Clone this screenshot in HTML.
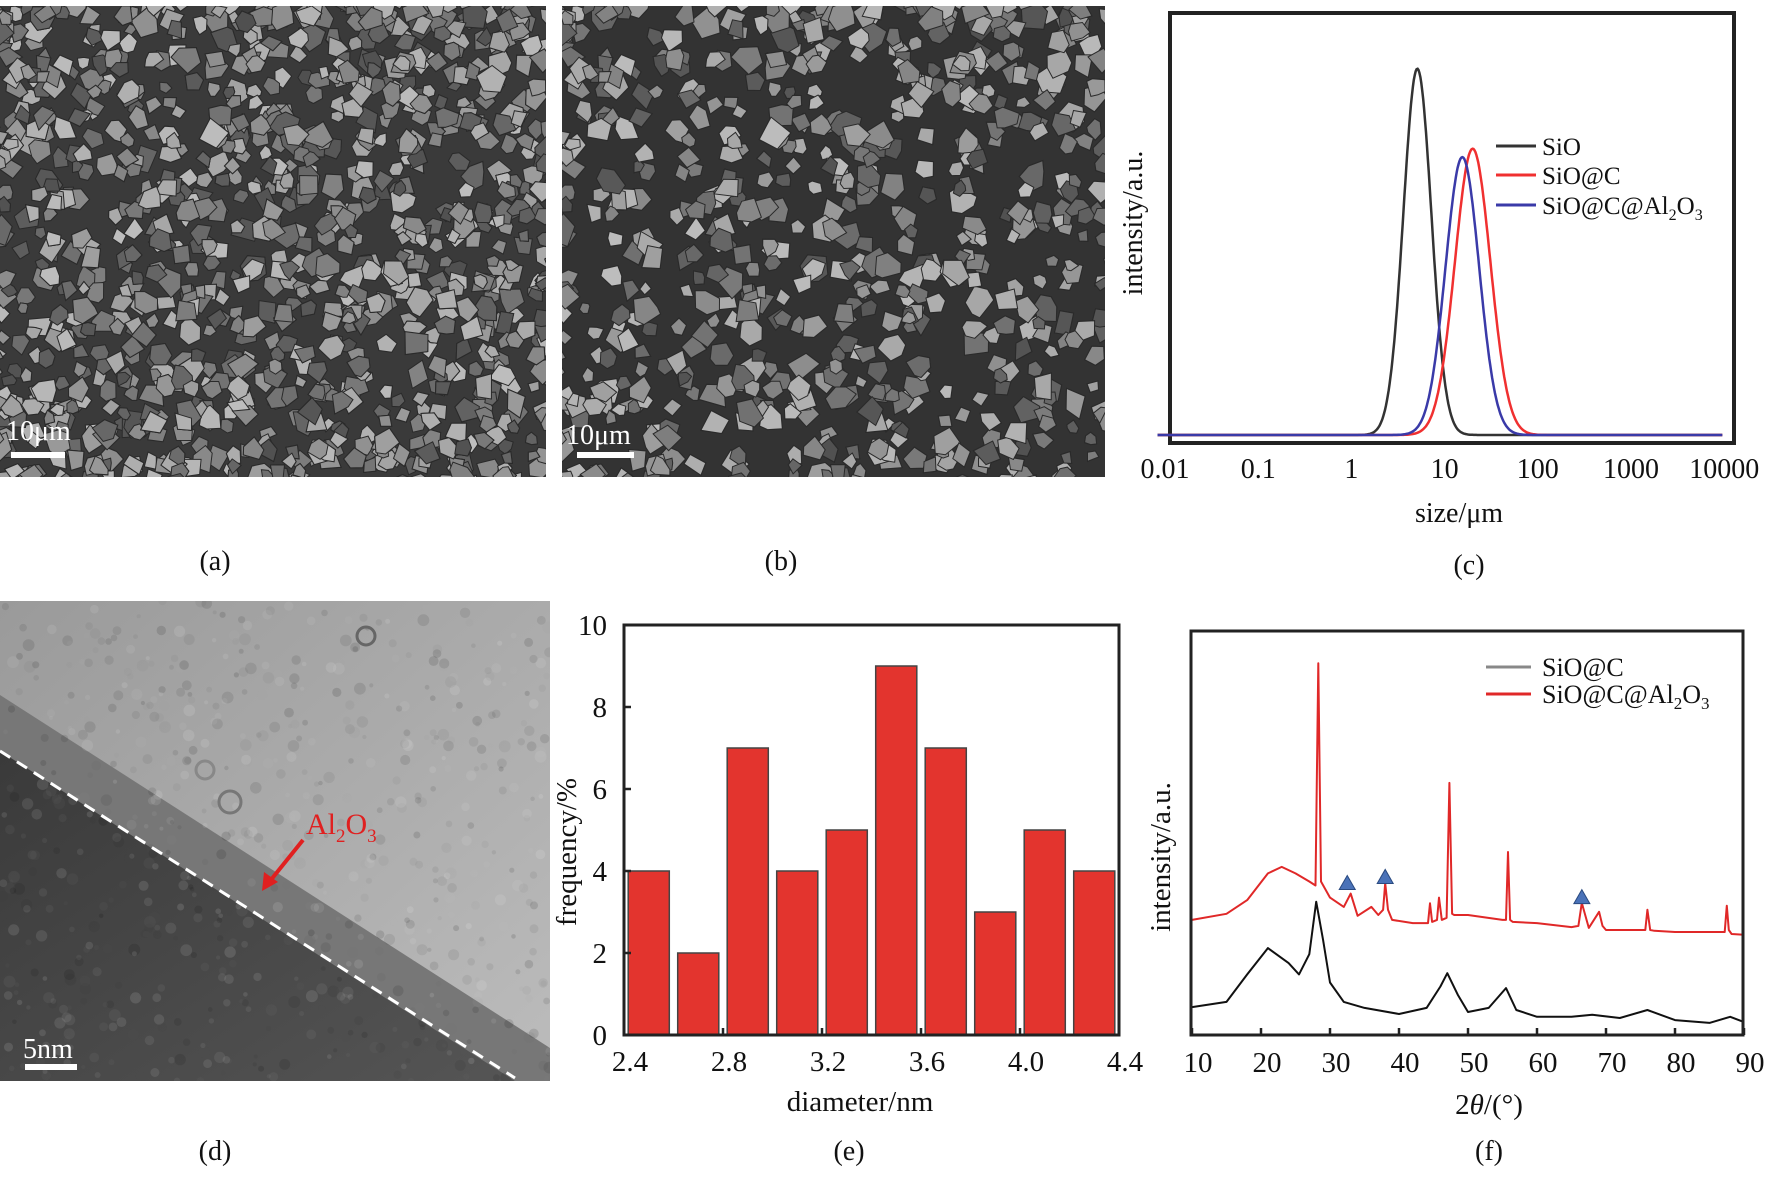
<!DOCTYPE html>
<html><head><meta charset="utf-8">
<style>
html,body{margin:0;padding:0;background:#fff;}
body{width:1772px;height:1176px;overflow:hidden;position:relative;}
svg text{font-family:"Liberation Serif",serif;fill:#111;}
</style></head>
<body>
<svg id="fig" width="1772" height="1176" viewBox="0 0 1772 1176" xmlns="http://www.w3.org/2000/svg">
  <defs>
    <clipPath id="clipA"><rect x="0" y="6" width="546" height="471"/></clipPath>
    <clipPath id="clipB"><rect x="562" y="6" width="543" height="471"/></clipPath>
    <clipPath id="clipD"><rect x="0" y="601" width="550" height="480"/></clipPath>
    <linearGradient id="temLight" x1="0" y1="0" x2="1" y2="1">
      <stop offset="0" stop-color="#9a9a9a"/><stop offset="1" stop-color="#bcbcbc"/>
    </linearGradient>
    <linearGradient id="temDark" x1="0" y1="0" x2="1" y2="1">
      <stop offset="0" stop-color="#3a3a3a"/><stop offset="1" stop-color="#555"/>
    </linearGradient>
  </defs>

  <g clip-path="url(#clipA)">
    <rect x="0" y="6" width="546" height="471" fill="#3a3a3a"/>
    <g id="grainsA"></g>
  </g>
  <text x="6" y="440" font-size="28" style="fill:#fff">10μm</text>
  <rect x="11" y="452" width="54" height="6" fill="#fff"/>
  <text x="215" y="570" font-size="28" text-anchor="middle">(a)</text>

  <g clip-path="url(#clipB)">
    <rect x="562" y="6" width="543" height="471" fill="#333"/>
    <g id="grainsB"></g>
  </g>
  <text x="566" y="444" font-size="28" style="fill:#fff">10μm</text>
  <rect x="577" y="452" width="57" height="6" fill="#fff"/>
  <text x="781" y="570" font-size="28" text-anchor="middle">(b)</text>

  <g id="chartC"></g>
  <text x="1469" y="574" font-size="28" text-anchor="middle">(c)</text>

  <g clip-path="url(#clipD)">
    <rect x="0" y="601" width="550" height="480" fill="url(#temLight)"/>
    <polygon points="0,695 550,1048 550,1081 0,1081" fill="#777"/>
    <polygon points="0,751 515,1081 0,1081" fill="url(#temDark)"/>
    <g id="temNoise"></g>
    <line x1="0" y1="751" x2="515" y2="1078" stroke="#fff" stroke-width="3" stroke-dasharray="12,8"/>
    <circle cx="366" cy="636" r="9" fill="none" stroke="#666" stroke-width="3"/>
    <circle cx="230" cy="802" r="11" fill="none" stroke="#777" stroke-width="3"/>
    <circle cx="205" cy="770" r="9" fill="none" stroke="#888" stroke-width="3"/>
  </g>
  <text x="306" y="834" font-size="30" style="fill:#e02020">Al<tspan font-size="19" dy="8" style="fill:#e02020">2</tspan><tspan dy="-8" style="fill:#e02020">O</tspan><tspan font-size="19" dy="8" style="fill:#e02020">3</tspan></text>
  <g>
    <line x1="303" y1="840" x2="270" y2="881" stroke="#e02020" stroke-width="4"/>
    <polygon points="262,891 264,872 278,882" fill="#e02020"/>
  </g>
  <text x="23" y="1058" font-size="28" style="fill:#fff">5nm</text>
  <rect x="25" y="1064" width="52" height="6" fill="#fff"/>
  <text x="215" y="1160" font-size="28" text-anchor="middle">(d)</text>

  <g id="chartE"></g>
  <text x="849" y="1160" font-size="28" text-anchor="middle">(e)</text>

  <g id="chartF"></g>
  <text x="1489" y="1160" font-size="28" text-anchor="middle">(f)</text>
</svg>

<script>
const cSeriesNames = ["SiO", "SiO@C", "SiO@C@Al2O3"];
const cPeakSizes = [5.1, 20, 15.5];
const cPeakHeights = [87, 68, 66];
const cPeakWidths = [0.15, 0.19, 0.18];
const cTickLabels = ["0.01", "0.1", "1", "10", "100", "1000", "10000"];
const cTickValues = [0.01, 0.1, 1, 10, 100, 1000, 10000];

const eCategories = [2.5, 2.7, 2.9, 3.1, 3.3, 3.5, 3.7, 3.9, 4.1, 4.3];
const eValues = [4, 2, 7, 4, 5, 9, 7, 3, 5, 4];
const eXTicks = ["2.4", "2.8", "3.2", "3.6", "4.0", "4.4"];
const eYTicks = ["0", "2", "4", "6", "8", "10"];

const fBlackAngles = [10,15,18,21,24,25.5,27,28,29,30,32,35,40,44,46,47,48.5,50,53,55.5,57,60,65,68,72,76,80,85,88,90];
const fBlackValues = [6.9,8.2,15,21.5,17.8,15,20,33,23.5,13,8.2,6.7,5.2,6.7,12,15.3,10,5.7,6.7,11.6,6.2,4.5,4.5,5,4.2,6.2,3.7,3,4.5,3.2];
const fRedAngles = [10,15,18,21,23,25,27,27.9,28.3,28.7,30,32,33,34,36,37,37.7,38,38.4,39,42,44.2,44.5,44.8,45.5,45.8,46.2,46.9,47.3,47.7,48,50,55,55.5,55.8,56.1,56.5,60,65,66,66.5,67.5,69,69.5,70,75,75.7,76,76.4,77,80,87,87.2,87.5,87.8,88.2,90];
const fRedValues = [28.5,30,33.4,40,41.6,40,38,37,92,38,34,31.7,35,29.5,31.7,29.7,31,37.6,31,28.5,27.7,27.7,32.6,28,28.5,34,28.5,29,62.4,30,29.7,29.7,28.5,28.5,45.3,28.5,28,27.7,26.7,27,32.7,26.5,30.5,27,26,26,26,31,26,25.8,25.5,25.5,25.5,32,26,25,24.8];
const fMarkerAngles = [32.5, 38, 66.5];
const fMarkerValues = [37.5, 39, 34];
const fXTicks = ["10","20","30","40","50","60","70","80","90"];
const fXTickValues = [10,20,30,40,50,60,70,80,90];

const NS = "http://www.w3.org/2000/svg";
function mk(tag, attrs, parent) {
  const el = document.createElementNS(NS, tag);
  for (const k in attrs) el.setAttribute(k, attrs[k]);
  parent.appendChild(el);
  return el;
}

let seed = 12345;
function rnd() { seed = (seed * 1103515245 + 12345) % 2147483648; return seed / 2147483648; }
function grains(gid, x0, x1, y0, y1, n, rmin, rmax) {
  const g = document.getElementById(gid);
  for (let i = 0; i < n; i++) {
    const cx = x0 + rnd() * (x1 - x0), cy = y0 + rnd() * (y1 - y0);
    const r = rmin + rnd() * (rmax - rmin);
    const k = 4 + Math.floor(rnd() * 3);
    let pts = [];
    const a0 = rnd() * 6.28;
    for (let j = 0; j < k; j++) {
      const a = a0 + j * 6.283 / k + (rnd() - 0.5) * 0.6;
      const rr = r * (0.7 + rnd() * 0.5);
      pts.push((cx + rr * Math.cos(a)).toFixed(1) + "," + (cy + rr * Math.sin(a)).toFixed(1));
    }
    const v = Math.floor(80 + rnd() * 110);
    const p = mk("polygon", {points: pts.join(" "), fill: `rgb(${v},${v},${v})`, stroke: "#2a2a2a", "stroke-width": "1"}, g);
    
    
  }
}
grains("grainsA", -10, 556, -4, 487, 2200, 7, 14);
grains("grainsB", 552, 1115, -4, 487, 1900, 7, 15);
(function(){
  const g = document.getElementById("temNoise");
  for (let i = 0; i < 700; i++) {
    const x = rnd() * 550, y = 601 + rnd() * 480;
    const v = Math.floor(rnd() * 255);
    mk("circle", {cx: x.toFixed(1), cy: y.toFixed(1), r: (2 + rnd() * 4).toFixed(1), fill: `rgb(${v},${v},${v})`, opacity: "0.12"}, g);
  }
})();

(function(){
  const g = document.getElementById("chartC");
  const L = 1170, R = 1734, T = 13, B = 443;
  const xLog = v => 1165 + (Math.log10(v) + 2) * 93.2;
  const yC = v => 435 - v / 100 * 421;
  const fr = mk("rect", {x: L, y: T, width: R - L, height: B - T, fill: "none", stroke: "#222", "stroke-width": "4"}, g);
  
  
  const colors = ["#333333", "#f03030", "#3a3aa8"];
  [0, 1, 2].forEach(i => {
    let d = "";
    for (let lx = -2.08; lx <= 3.98; lx += 0.01) {
      const v = cPeakHeights[i] * Math.exp(-Math.pow(lx - Math.log10(cPeakSizes[i]), 2) / (2 * cPeakWidths[i] * cPeakWidths[i]));
      d += (d ? " L" : "M") + xLog(Math.pow(10, lx)).toFixed(1) + "," + yC(v).toFixed(1);
    }
    const p = mk("path", {d: d, fill: "none", stroke: colors[i], "stroke-width": "2.5"}, g);
    
    
  });
  cTickValues.forEach((v, i) => {
    const t = mk("text", {x: xLog(v), y: 478, "font-size": "28", "text-anchor": "middle"}, g);
    t.textContent = cTickLabels[i];
    
    
  });
  const xt = mk("text", {x: 1459, y: 522, "font-size": "28", "text-anchor": "middle"}, g);
  xt.textContent = "size/μm";
  
  
  const yt = mk("text", {x: 0, y: 0, "font-size": "28", "text-anchor": "middle", transform: "translate(1142,223) rotate(-90)"}, g);
  yt.textContent = "intensity/a.u.";
  
  
  const ly = [146, 175, 205];
  cSeriesNames.forEach((n, i) => {
    const lg = mk("g", {}, g);
    
    
    mk("line", {x1: 1496, x2: 1536, y1: ly[i], y2: ly[i], stroke: colors[i], "stroke-width": "3"}, lg);
    const t = mk("text", {x: 1542, y: ly[i] + 9, "font-size": "25"}, lg);
    if (i === 2) t.innerHTML = 'SiO@C@Al<tspan font-size="16" dy="6">2</tspan><tspan dy="-6">O</tspan><tspan font-size="16" dy="6">3</tspan>';
    else t.textContent = n;
  });
})();

(function(){
  const g = document.getElementById("chartE");
  const L = 624, R = 1119, T = 625, B = 1035;
  const xE = v => L + (v - 2.4) / 2.0 * (R - L);
  const yE = v => B - v / 10 * (B - T);
  const bw = 0.166 / 2.0 * (R - L);
  eCategories.forEach((c, i) => {
    const r = mk("rect", {x: (xE(c) - bw / 2).toFixed(1), y: yE(eValues[i]).toFixed(1), width: bw.toFixed(1), height: (B - yE(eValues[i])).toFixed(1), fill: "#e3342e", stroke: "#444", "stroke-width": "1.5"}, g);
    
    
  });
  const fr = mk("rect", {x: L, y: T, width: R - L, height: B - T, fill: "none", stroke: "#222", "stroke-width": "3"}, g);
  
  
  eXTicks.forEach(s => {
    const v = parseFloat(s);
    mk("line", {x1: xE(v), x2: xE(v), y1: B, y2: B - 7, stroke: "#222", "stroke-width": "2.5"}, g);
    const t = mk("text", {x: xE(v) + 6, y: 1071, "font-size": "29", "text-anchor": "middle"}, g);
    t.textContent = s;
    
    
  });
  eYTicks.forEach(s => {
    const v = parseFloat(s);
    mk("line", {x1: L, x2: L + 7, y1: yE(v), y2: yE(v), stroke: "#222", "stroke-width": "2.5"}, g);
    const t = mk("text", {x: 607, y: yE(v) + 10, "font-size": "29", "text-anchor": "end"}, g);
    t.textContent = s;
    
    
  });
  const xt = mk("text", {x: 860, y: 1111, "font-size": "29", "text-anchor": "middle"}, g);
  xt.textContent = "diameter/nm";
  
  
  const yt = mk("text", {x: 0, y: 0, "font-size": "29", "text-anchor": "middle", transform: "translate(576,852) rotate(-90)"}, g);
  yt.textContent = "frequency/%";
  
  
})();

(function(){
  const g = document.getElementById("chartF");
  const L = 1191, R = 1743, T = 631, B = 1035;
  const xF = v => 1192 + (v - 10) / 80 * (1744 - 1192);
  const yF = v => B - v / 100 * (B - T);
  function line(xs, ys, color, name) {
    let d = "";
    xs.forEach((a, i) => { d += (i ? " L" : "M") + xF(a).toFixed(1) + "," + yF(ys[i]).toFixed(1); });
    const p = mk("path", {d: d, fill: "none", stroke: color, "stroke-width": "2", "stroke-linejoin": "round"}, g);
    
    
  }
  line(fBlackAngles, fBlackValues, "#111", "curve-sio-c");
  line(fRedAngles, fRedValues, "#e02828", "curve-sio-c-al2o3");
  fMarkerAngles.forEach((a, i) => {
    const x = xF(a), y = yF(fMarkerValues[i]);
    const tri = mk("polygon", {points: `${x - 8},${y + 6} ${x + 8},${y + 6} ${x},${y - 8}`, fill: "#4a72b8", stroke: "#2a4a80", "stroke-width": "1"}, g);
    
    
  });
  const fr = mk("rect", {x: L, y: T, width: R - L, height: B - T, fill: "none", stroke: "#222", "stroke-width": "3"}, g);
  
  
  fXTickValues.forEach((v, i) => {
    mk("line", {x1: xF(v), x2: xF(v), y1: B, y2: B - 7, stroke: "#222", "stroke-width": "2.5"}, g);
    const t = mk("text", {x: xF(v) + 6, y: 1072, "font-size": "29", "text-anchor": "middle"}, g);
    t.textContent = fXTicks[i];
    
    
  });
  const xt = mk("text", {x: 1489, y: 1114, "font-size": "29", "text-anchor": "middle"}, g);
  xt.innerHTML = '2<tspan font-style="italic">θ</tspan>/(°)';
  
  
  const yt = mk("text", {x: 0, y: 0, "font-size": "29", "text-anchor": "middle", transform: "translate(1170,857) rotate(-90)"}, g);
  yt.textContent = "intensity/a.u.";
  
  
  const names = ["SiO@C", "SiO@C@Al2O3"], cols = ["#888", "#e02828"], ys = [667, 694];
  names.forEach((n, i) => {
    const lg = mk("g", {}, g);
    
    
    mk("line", {x1: 1486, x2: 1531, y1: ys[i], y2: ys[i], stroke: cols[i], "stroke-width": "3"}, lg);
    const t = mk("text", {x: 1542, y: ys[i] + 9, "font-size": "26"}, lg);
    if (i === 1) t.innerHTML = 'SiO@C@Al<tspan font-size="17" dy="6">2</tspan><tspan dy="-6">O</tspan><tspan font-size="17" dy="6">3</tspan>';
    else t.textContent = n;
  });
})();
</script>
</body></html>
